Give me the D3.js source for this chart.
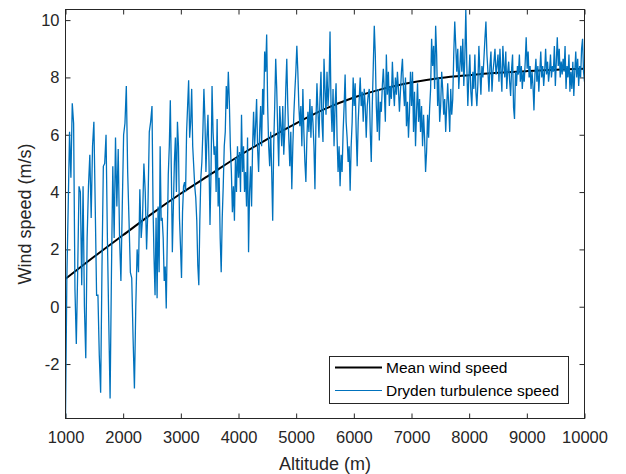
<!DOCTYPE html>
<html>
<head>
<meta charset="utf-8">
<script src="https://cdn.jsdelivr.net/npm/d3@7"></script>
<style>
  body { margin: 0; background: #fff; }
  svg { display: block; font-family: "Liberation Sans", Arial, Helvetica, sans-serif; }
</style>
</head>
<body>
<svg id="chart"></svg>
<script>
// axis ticks
const altTicks = [1000, 2000, 3000, 4000, 5000, 6000, 7000, 8000, 9000, 10000];
const speedTicks = [-2, 0, 2, 4, 6, 8, 10];

// mean wind profile (read every 500 m)
const meanAlt = [1000, 1500, 2000, 2500, 3000, 3500, 4000, 4500, 5000, 5500,
                 6000, 6500, 7000, 7500, 8000, 8500, 9000, 9500, 10000];
const meanSpeed = [0.97, 1.75, 2.5, 3.25, 3.95, 4.6, 5.25, 5.85, 6.4, 6.9,
                   7.3, 7.6, 7.82, 7.98, 8.08, 8.16, 8.22, 8.27, 8.3];

// Dryden turbulence speed in 1500 m pieces
const turb1000 = [-3.9, 1.0, 3.5, 6.1, 4.5, 7.1, 6.4, 0.6, -1.3, 1.2, 4.2, 4.0, 0.75, 4.2, 0, -1.8,
  2.4, 4.2, 5.3, 3.1, 5.6, 6.45, 3.5, 0.4, 0.4, -1.7, -3.0, 1.4, 4.9, 5.0, 6.0, 2.4, -0.5, -3.2,
  1.2, 4.9, 2.4, 5.9, 3.5, 5.5, 2.4, 0.9, 3.5, 6.0, 6.4, 7.7, 4.7, 3.0, 1.2, 1.0, -1.1, -2.85,
  0, 2.0, 1.2, 4.1, 2.4, 3.1, 5.0, 4.0, 2.0, 3.5, 6.1, 6.45];
const turb2500 = [7.0, 3.5, 1.7, 0.4, 3.1, 0.3, 3.5, 1.2, 5.6, 3.0, 3.1, 2.4, 0.9, 1.4, -0.06, 2.4,
  4.6, 5.6, 7.2, 4.7, 1.9, 3.5, 5.05, 5.9, 4.0, 6.45, 5.6, 3.1, 2.1, 1.0, 3.3, 4.2, 4.35, 4.0,
  6.1, 7.0, 7.9, 5.9, 6.45, 7.6, 5.6, 4.9, 4.2, 3.8, 3.0, 1.45, 0.75, 3.0, 4.5, 5.05, 6.1, 7.6,
  6.55, 4.7, 5.9, 6.7, 5.05, 2.85, 4.7, 7.7, 6.1, 5.3, 5.6, 4.0, 6.55, 3.5, 4.5, 2.4, 1.2, 3.1,
  4.2, 5.6, 6.1, 7.7, 6.9, 8.2, 7.15, 5.6, 4.7, 3.3, 4.2, 3.0, 5.2, 4.0, 5.6];
const turb4000 = [4.5, 5.4, 4.0, 6.7, 4.7, 5.6, 4.0, 4.7, 3.5, 5.9, 1.9, 4.0, 4.9, 3.5, 5.6, 6.8,
  5.6, 6.3, 7.25, 5.5, 4.7, 6.1, 7.0, 5.6, 7.6, 6.7, 8.9, 8.2, 9.5, 7.0, 5.6, 4.9, 6.1, 4.7, 3.0,
  5.6, 7.0, 8.65, 7.6, 6.1, 4.9, 7.0, 6.3, 5.6, 7.0, 5.3, 6.1, 7.6, 8.65, 7.0, 5.9, 4.9, 6.1,
  4.1, 5.6, 6.7, 7.5, 8.2, 9.1, 8.2, 7.0, 6.3, 7.0, 5.6, 7.6, 6.1, 5.05, 4.35, 5.9, 6.8, 6.1,
  7.25, 5.9, 7.0, 6.45, 5.6, 4.1, 6.45, 7.8, 6.8, 5.9, 7.25, 8.2, 6.45, 5.75, 8.65];
const turb5500 = [7.6, 6.7, 8.2, 7.0, 7.7, 9.6, 7.0, 6.1, 7.6, 5.6, 7.0, 7.8, 5.9, 4.7, 5.6, 4.2,
  5.3, 4.7, 6.1, 7.0, 8.1, 6.45, 5.9, 5.05, 5.6, 4.05, 5.6, 6.45, 8.0, 7.0, 7.8, 6.1, 4.9, 6.45,
  7.25, 8.0, 7.0, 7.5, 6.45, 7.6, 7.0, 5.9, 7.0, 7.4, 7.6, 6.1, 5.05, 7.0, 8.4, 9.8, 8.8, 7.0,
  6.1, 7.6, 5.8, 7.15, 6.8, 7.7, 8.3, 7.5, 6.45, 8.8, 7.4, 8.2, 7.0, 7.7, 7.25, 8.55, 7.6, 7.0,
  8.0, 7.4, 8.2, 7.6, 6.8, 7.5, 8.2, 8.65, 7.6, 7.0, 8.0, 6.3, 7.15, 5.9, 6.8, 8.2];
const turb7000 = [7.0, 8.2, 6.1, 7.5, 5.6, 6.8, 7.8, 6.45, 7.25, 6.1, 7.0, 5.6, 6.7, 5.9, 4.7, 5.4,
  6.7, 5.9, 6.9, 7.6, 9.35, 8.4, 9.1, 7.6, 9.8, 8.8, 7.0, 8.0, 6.45, 7.0, 8.2, 7.6, 6.7, 7.25,
  6.1, 7.0, 7.8, 7.0, 6.1, 7.6, 6.7, 7.25, 8.8, 9.95, 9.1, 8.2, 9.0, 7.6, 8.3, 9.1, 8.2, 9.35,
  7.7, 8.65, 10.37, 8.4, 7.0, 8.0, 8.8, 7.5, 7.0, 8.2, 7.6, 8.8, 7.5, 7.0, 7.8, 9.1, 8.2, 7.4,
  8.4, 8.0, 8.65, 9.35, 9.95, 8.8, 8.2, 7.5, 8.4, 8.9, 7.5, 8.2, 8.55, 9.0, 8.1, 8.4];
const turb8500 = [8.8, 7.85, 9.0, 8.2, 7.5, 9.1, 8.4, 8.0, 8.9, 7.6, 8.2, 8.55, 7.85, 7.35, 8.3,
  8.8, 6.95, 6.55, 8.2, 7.7, 8.4, 8.1, 8.8, 7.85, 8.4, 7.6, 8.2, 7.85, 8.55, 9.4, 8.3, 8.9, 8.0,
  8.4, 7.6, 8.2, 7.7, 6.85, 8.1, 8.65, 7.85, 8.4, 7.5, 8.2, 8.9, 8.0, 8.4, 7.7, 8.2, 9.0, 8.1,
  8.55, 7.85, 8.2, 8.8, 8.0, 8.4, 8.2, 9.1, 7.7, 8.55, 9.4, 8.4, 9.0, 8.0, 8.55, 8.1, 8.65, 8.2,
  9.1, 7.6, 8.4, 8.0, 8.8, 7.5, 8.2, 7.6, 8.55, 7.35, 8.2, 8.9, 8.0, 8.65, 7.7, 8.4, 8.0, 9.0,
  9.35, 8.2, 7.85];

const pieces = [
  { start: 1000, end: 2500, values: turb1000 },
  { start: 2500, end: 4000, values: turb2500 },
  { start: 4000, end: 5500, values: turb4000 },
  { start: 5500, end: 7000, values: turb5500 },
  { start: 7000, end: 8500, values: turb7000 },
  { start: 8500, end: 10000, values: turb8500 }
];

const width = 626, height = 474;
const plot = { left: 65.5, right: 584.5, top: 9.5, bottom: 418.5 };
const axisColor = "#262626";

const svg = d3.select("#chart").attr("width", width).attr("height", height);

const x = d3.scaleLinear().domain([1000, 10000]).range([plot.left, plot.right]);
const y = d3.scaleLinear().domain([-3.9, 10.37]).range([plot.bottom, plot.top]);

// spread each piece evenly over its altitude span
const turbulence = [];
pieces.forEach((p, k) => {
  const n = p.values.length;
  const last = k === pieces.length - 1;
  const pos = d3.scaleLinear().domain([0, last ? n - 1 : n]).range([p.start, p.end]);
  p.values.forEach((v, i) => turbulence.push({ alt: pos(i), speed: v }));
});
const mean = meanAlt.map((a, i) => ({ alt: a, speed: meanSpeed[i] }));

svg.append("defs").append("clipPath").attr("id", "clip")
  .append("rect")
  .attr("x", plot.left).attr("y", plot.top)
  .attr("width", plot.right - plot.left).attr("height", plot.bottom - plot.top);

svg.append("rect")
  .attr("x", plot.left).attr("y", plot.top)
  .attr("width", plot.right - plot.left).attr("height", plot.bottom - plot.top)
  .attr("fill", "#fff");

// Axes (ticks point inwards, box drawn separately)
const plain = d => String(d);

function styleAxis(g, labels) {
  g.select(".domain").remove();
  g.selectAll(".tick line").attr("stroke", axisColor);
  g.selectAll(".tick text")
    .attr("fill", axisColor)
    .style("font-size", "16.5px")
    .style("font-family", "'Liberation Sans', Arial, Helvetica, sans-serif");
  if (!labels) g.selectAll(".tick text").remove();
}

svg.append("g")
  .attr("transform", `translate(0,${plot.bottom})`)
  .call(d3.axisBottom(x).tickValues(altTicks).tickFormat(plain)
    .tickSizeInner(-5).tickSizeOuter(0).tickPadding(13))
  .call(g => styleAxis(g, true));

svg.append("g")
  .attr("transform", `translate(0,${plot.top})`)
  .call(d3.axisTop(x).tickValues(altTicks).tickSizeInner(-5).tickSizeOuter(0))
  .call(g => styleAxis(g, false));

svg.append("g")
  .attr("transform", `translate(${plot.left},0)`)
  .call(d3.axisLeft(y).tickValues(speedTicks).tickFormat(plain)
    .tickSizeInner(-5).tickSizeOuter(0).tickPadding(6))
  .call(g => styleAxis(g, true));

svg.append("g")
  .attr("transform", `translate(${plot.right},0)`)
  .call(d3.axisRight(y).tickValues(speedTicks).tickSizeInner(-5).tickSizeOuter(0))
  .call(g => styleAxis(g, false));

// Lines
const line = d3.line().x(d => x(d.alt)).y(d => y(d.speed));

svg.append("path")
  .datum(mean)
  .attr("clip-path", "url(#clip)")
  .attr("fill", "none")
  .attr("stroke", "#000")
  .attr("stroke-width", 2)
  .attr("d", line.curve(d3.curveMonotoneX));

svg.append("path")
  .datum(turbulence)
  .attr("clip-path", "url(#clip)")
  .attr("fill", "none")
  .attr("stroke", "#0072BD")
  .attr("stroke-width", 1.3)
  .attr("d", line.curve(d3.curveLinear));

// Box
svg.append("rect")
  .attr("x", plot.left).attr("y", plot.top)
  .attr("width", plot.right - plot.left).attr("height", plot.bottom - plot.top)
  .attr("fill", "none")
  .attr("stroke", axisColor)
  .attr("stroke-width", 1);

// Axis titles
svg.append("text")
  .attr("x", (plot.left + plot.right) / 2)
  .attr("y", 469.5)
  .attr("text-anchor", "middle")
  .attr("fill", axisColor)
  .style("font-size", "18px")
  .text("Altitude (m)");

svg.append("text")
  .attr("transform", `translate(30.5,${(plot.top + plot.bottom) / 2}) rotate(-90)`)
  .attr("text-anchor", "middle")
  .attr("fill", axisColor)
  .style("font-size", "18px")
  .text("Wind speed (m/s)");

// Legend
const legend = svg.append("g");
legend.append("rect")
  .attr("x", 329.5).attr("y", 356.5)
  .attr("width", 239).attr("height", 47)
  .attr("fill", "#fff")
  .attr("stroke", axisColor)
  .attr("stroke-width", 1);

const legendItems = [
  { label: "Mean wind speed", color: "#000", w: 2, y: 367.5 },
  { label: "Dryden turbulence speed", color: "#0072BD", w: 1.1, y: 390.5 }
];
legendItems.forEach(d => {
  legend.append("line")
    .attr("x1", 335).attr("x2", 382)
    .attr("y1", d.y).attr("y2", d.y)
    .attr("stroke", d.color)
    .attr("stroke-width", d.w);
  legend.append("text")
    .attr("x", 386).attr("y", d.y)
    .attr("dy", "0.35em")
    .attr("fill", "#000")
    .style("font-size", "15.5px")
    .text(d.label);
});
</script>
</body>
</html>
